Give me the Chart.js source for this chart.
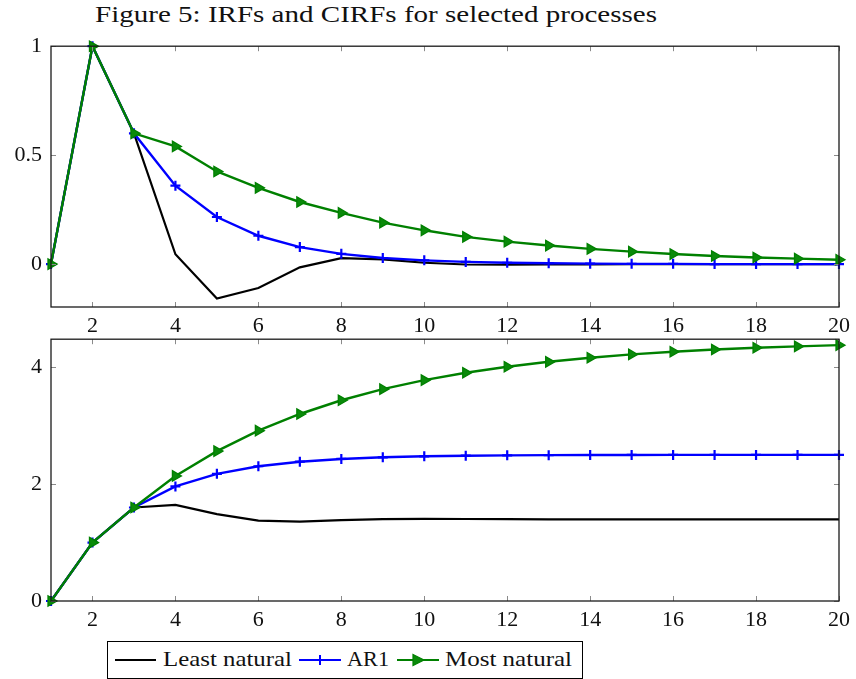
<!DOCTYPE html>
<html>
<head>
<meta charset="utf-8">
<script src="https://cdn.jsdelivr.net/npm/chart.js@4.4.1/dist/chart.umd.min.js"></script>
<style>
  html, body { margin: 0; padding: 0; background: #fff; }
  body { width: 856px; height: 679px; position: relative; overflow: hidden; font-family: "Liberation Serif", serif; color: #111; }
  #title { position: absolute; left: 95px; top: 2px; font-size: 23px; white-space: nowrap; transform-origin: 0 0; }
  .wrap { position: absolute; left: 0; width: 856px; }
  #w1 { top: 24px; height: 313px; }
  #w2 { top: 317px; height: 314px; }
  #legend { position: absolute; left: 107px; top: 641px; width: 476px; height: 38px; box-sizing: border-box; border: 1px solid #000; font-size: 22px; white-space: nowrap; }
  #legend svg, #legend span { position: absolute; }
  #legend span { top: 4px; transform-origin: 0 0; }
</style>
</head>
<body>
<div id="title">Figure 5: IRFs and CIRFs for selected processes</div>
<div class="wrap" id="w1"><canvas id="c1"></canvas></div>
<div class="wrap" id="w2"><canvas id="c2"></canvas></div>
<div id="legend">
  <svg style="left:7px;top:13px" width="41" height="10"><line x1="0" y1="5" x2="41" y2="5" stroke="#000" stroke-width="2.2"/></svg>
  <span id="l1" style="left:55px">Least natural</span>
  <svg style="left:191px;top:12px" width="42" height="12"><line x1="0" y1="6" x2="42" y2="6" stroke="#0000ff" stroke-width="2.2"/><line x1="21" y1="1" x2="21" y2="11" stroke="#0000ff" stroke-width="2"/><line x1="16" y1="6" x2="26" y2="6" stroke="#0000ff" stroke-width="2"/></svg>
  <span id="l2" style="left:239px">AR1</span>
  <svg style="left:289px;top:11px" width="42" height="14"><line x1="0" y1="7" x2="42" y2="7" stroke="#008000" stroke-width="2.2"/><polygon points="16,1.5 27,7 16,12.5" fill="#0a8a0a" stroke="#008000" stroke-width="1.2"/></svg>
  <span id="l3" style="left:337px">Most natural</span>
</div>
<script>
// ---- data ----
const steps = [1,2,3,4,5,6,7,8,9,10,11,12,13,14,15,16,17,18,19,20];
const xTickValues = [2,4,6,8,10,12,14,16,18,20];
const irfTickValues = [0, 0.5, 1];
const irfTickLabels = ["0", "0.5", "1"];
const cirfTickValues = [0, 2, 4];
const cirfTickLabels = ["0", "2", "4"];
const seriesNames = ["Least natural", "AR1", "Most natural"];

const irfLeast   = [0, 1, 0.6, 0.045, -0.158, -0.11, -0.015, 0.027, 0.022, 0.006, -0.002, -0.003, -0.002, -0.001, 0, 0, 0, 0, 0, 0];
const irfAR1     = [0, 1, 0.6, 0.36, 0.216, 0.13, 0.078, 0.047, 0.028, 0.017, 0.01, 0.006, 0.004, 0.002, 0.001, 0.001, 0, 0, 0, 0];
const irfMost    = [0, 1, 0.6, 0.54, 0.425, 0.35, 0.285, 0.235, 0.19, 0.155, 0.125, 0.103, 0.085, 0.07, 0.057, 0.046, 0.037, 0.03, 0.025, 0.02];

const cirfLeast  = [0, 1, 1.6, 1.645, 1.487, 1.375, 1.36, 1.385, 1.4, 1.405, 1.403, 1.4, 1.398, 1.397, 1.397, 1.397, 1.397, 1.397, 1.397, 1.397];
const cirfAR1    = [0, 1, 1.6, 1.96, 2.176, 2.306, 2.384, 2.431, 2.459, 2.476, 2.486, 2.492, 2.496, 2.498, 2.499, 2.5, 2.5, 2.5, 2.5, 2.5];
const cirfMost   = [0, 1, 1.6, 2.14, 2.565, 2.915, 3.2, 3.435, 3.625, 3.78, 3.905, 4.008, 4.093, 4.163, 4.22, 4.266, 4.303, 4.333, 4.358, 4.378];

const irfRange = [-0.197, 1.0];
const cirfRange = [0, 4.48];

// ---- text width fitting (match reference widths) ----
function fitWidth(id, w) {
  const el = document.getElementById(id);
  const nat = el.getBoundingClientRect().width;
  if (nat > 0) el.style.transform = 'scaleX(' + (w / nat) + ')';
}
fitWidth('title', 562);
fitWidth('l1', 129);
fitWidth('l2', 42);
fitWidth('l3', 127);

// ---- helpers ----
const FONT = "'Liberation Serif', serif";
const toXY = arr => steps.map((s, i) => ({ x: s, y: arr[i] }));

function makeDatasets(least, ar1, most) {
  return [
    { label: seriesNames[0], data: toXY(least), borderColor: '#000', borderWidth: 2.2, pointRadius: 0, order: 2, tension: 0 },
    { label: seriesNames[1], data: toXY(ar1), borderColor: '#0000ff', backgroundColor: '#0000ff', borderWidth: 2.4,
      pointStyle: 'cross', pointRadius: 5, pointBorderWidth: 2.2, pointBorderColor: '#0000ff', order: 1, tension: 0 },
    { label: seriesNames[2], data: toXY(most), borderColor: '#008000', backgroundColor: '#0a8a0a', borderWidth: 2.4,
      pointStyle: 'triangle', rotation: 90, pointRadius: 6, pointBorderWidth: 1.3, pointBorderColor: '#008000', order: 0, tension: 0 }
  ];
}

const framePlugin = {
  id: 'frame',
  afterDatasetsDraw(chart) {
    const { ctx, chartArea: a, scales } = chart;
    ctx.save();
    ctx.strokeStyle = '#8a8a8a';
    ctx.lineWidth = 1;
    const L = 5;
    scales.x.ticks.forEach(t => {
      const px = Math.round(scales.x.getPixelForValue(t.value)) + 0.5;
      ctx.beginPath();
      ctx.moveTo(px, a.bottom); ctx.lineTo(px, a.bottom - L);
      ctx.moveTo(px, a.top); ctx.lineTo(px, a.top + L);
      ctx.stroke();
    });
    scales.y.ticks.forEach(t => {
      const py = Math.round(scales.y.getPixelForValue(t.value)) + 0.5;
      ctx.beginPath();
      ctx.moveTo(a.left, py); ctx.lineTo(a.left + L, py);
      ctx.moveTo(a.right, py); ctx.lineTo(a.right - L, py);
      ctx.stroke();
    });
    ctx.strokeStyle = '#1a1a1a';
    ctx.lineWidth = 1.3;
    ctx.strokeRect(a.left, a.top, a.right - a.left, a.bottom - a.top);
    ctx.restore();
  }
};

function makeChart(id, datasets, yRange, yVals, yLabels) {
  return new Chart(document.getElementById(id), {
    type: 'line',
    data: { datasets },
    options: {
      responsive: true,
      maintainAspectRatio: false,
      animation: false,
      layout: { padding: { top: 10, right: 16, left: 0, bottom: 0 } },
      plugins: { legend: { display: false }, tooltip: { enabled: false } },
      elements: { line: { fill: false } },
      clip: false,
      scales: {
        x: {
          type: 'linear', min: 1, max: 20,
          grid: { display: false, drawTicks: false },
          border: { display: false },
          afterBuildTicks: s => { s.ticks = xTickValues.map(v => ({ value: v })); },
          afterFit: s => { s.height = 30; },
          ticks: { color: '#111', font: { family: FONT, size: 22 }, padding: 6, maxRotation: 0, autoSkip: false,
                   callback: v => String(v) }
        },
        y: {
          type: 'linear', min: yRange[0], max: yRange[1],
          grid: { display: false, drawTicks: false },
          border: { display: false },
          afterBuildTicks: s => { s.ticks = yVals.map(v => ({ value: v })); },
          afterFit: s => { s.width = 51; },
          ticks: { color: '#111', font: { family: FONT, size: 22 }, padding: 9, autoSkip: false,
                   callback: (v) => yLabels[yVals.indexOf(v)] }
        }
      }
    },
    plugins: [framePlugin]
  });
}

makeChart('c1', makeDatasets(irfLeast, irfAR1, irfMost), irfRange, irfTickValues, irfTickLabels);
makeChart('c2', makeDatasets(cirfLeast, cirfAR1, cirfMost), cirfRange, cirfTickValues, cirfTickLabels);
</script>
</body>
</html>
